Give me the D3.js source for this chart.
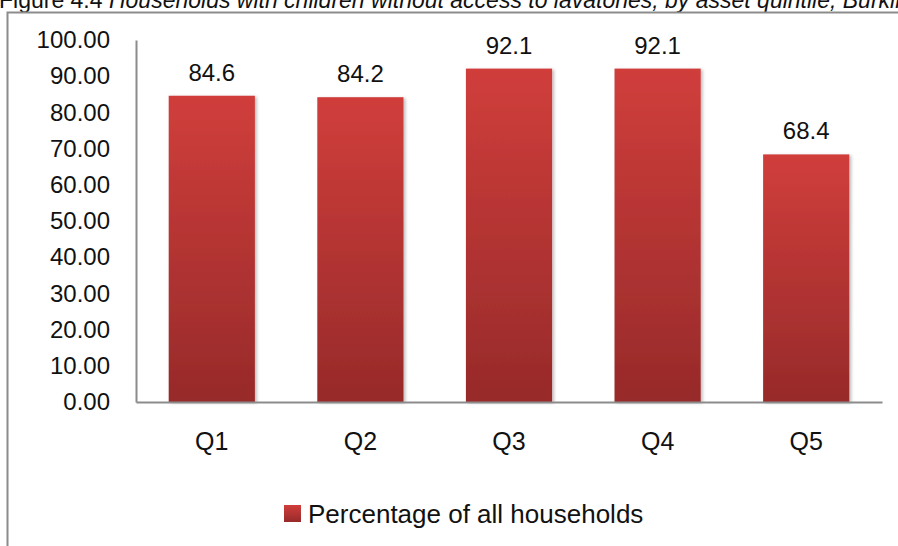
<!DOCTYPE html>
<html>
<head>
<meta charset="utf-8">
<script src="https://cdn.jsdelivr.net/npm/d3@7"></script>
<style>
  html, body { margin: 0; padding: 0; background: #fff; overflow: hidden; }
  svg { display: block; font-family: "Liberation Sans", Arial, sans-serif; }
</style>
</head>
<body>
<svg id="chart" width="898" height="546"></svg>
<script>
// Households with children lacking lavatory access, by asset quintile
const categories = ["Q1", "Q2", "Q3", "Q4", "Q5"];
const values = [84.6, 84.2, 92.1, 92.1, 68.4];
const yTicks = [0, 10, 20, 30, 40, 50, 60, 70, 80, 90, 100];
const seriesName = "Percentage of all households";
const titleLead = "Figure 4.4 ";
const titleRest = "Households with children without access to lavatories, by asset quintile, Burkina Faso";

const svg = d3.select("#chart");

// Title line (runs past the top edge of the frame)
const title = svg.append("text")
  .attr("x", -1).attr("y", 8)
  .attr("font-size", 23).attr("fill", "#111");
title.append("tspan").text(titleLead);
title.append("tspan").attr("font-style", "italic").text(titleRest);

// Outer frame
svg.append("path")
  .attr("d", "M7.5,546 V12.5 H898")
  .attr("fill", "none").attr("stroke", "#8c8c8c").attr("stroke-width", 2);

const plot = { left: 136, right: 882, top: 40, bottom: 402 };

const x = d3.scaleBand()
  .domain(categories)
  .range([plot.left, plot.right])
  .paddingInner(0.42).paddingOuter(0.22);

const y = d3.scaleLinear().domain([0, 100]).range([plot.bottom, plot.top]);

// Bar gradient and soft shadow
const defs = svg.append("defs");
const grad = defs.append("linearGradient").attr("id", "barFill")
  .attr("x1", 0).attr("y1", 0).attr("x2", 0).attr("y2", 1);
grad.append("stop").attr("offset", "0%").attr("stop-color", "#d03e3b");
grad.append("stop").attr("offset", "100%").attr("stop-color", "#972a2a");

const shadow = defs.append("filter").attr("id", "barShadow")
  .attr("x", "-10%").attr("y", "-5%").attr("width", "125%").attr("height", "110%");
shadow.append("feDropShadow").attr("dx", 2).attr("dy", 1)
  .attr("stdDeviation", 1.5).attr("flood-color", "#000").attr("flood-opacity", 0.25);

svg.append("g").selectAll("rect")
  .data(values)
  .join("rect")
  .attr("x", (d, i) => x(categories[i]))
  .attr("y", d => y(d))
  .attr("width", x.bandwidth())
  .attr("height", d => y(0) - y(d))
  .attr("fill", "url(#barFill)")
  .attr("filter", "url(#barShadow)");

// Value labels
svg.append("g").selectAll("text")
  .data(values)
  .join("text")
  .attr("x", (d, i) => x(categories[i]) + x.bandwidth() / 2)
  .attr("y", d => y(d) - 15)
  .attr("text-anchor", "middle")
  .attr("font-size", 24).attr("fill", "#111")
  .text(d => d.toFixed(1));

// Y axis
const yAxis = svg.append("g")
  .attr("transform", `translate(${plot.left},0)`)
  .call(d3.axisLeft(y).tickValues(yTicks).tickFormat(d3.format(".2f")).tickSize(0).tickPadding(26));
yAxis.select(".domain").attr("stroke", "#8c8c8c").attr("stroke-width", 2);
yAxis.selectAll("text").attr("font-size", 24).attr("fill", "#111")
  .attr("font-family", "Liberation Sans, Arial, sans-serif");

// X axis
const xAxis = svg.append("g")
  .attr("transform", `translate(0,${plot.bottom})`)
  .call(d3.axisBottom(x).tickSize(0).tickPadding(30));
xAxis.select(".domain").attr("stroke", "#8c8c8c").attr("stroke-width", 2);
xAxis.selectAll("text").attr("font-size", 25).attr("fill", "#111")
  .attr("font-family", "Liberation Sans, Arial, sans-serif");

// Legend
const legend = svg.append("g").attr("transform", "translate(284,505)");
legend.append("rect").attr("width", 17).attr("height", 17).attr("fill", "url(#barFill)");
legend.append("text").attr("x", 24).attr("y", 18)
  .attr("font-size", 26).attr("fill", "#111").text(seriesName);
</script>
</body>
</html>
